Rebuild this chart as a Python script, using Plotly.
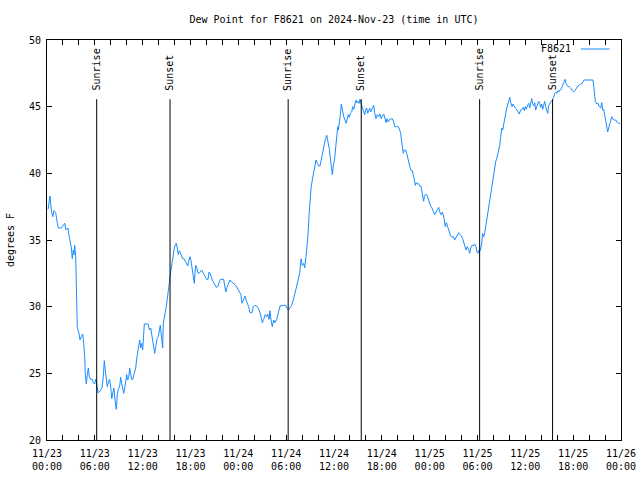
import pandas as pd
import plotly.graph_objects as go

TITLE = "Dew Point for F8621 on 2024-Nov-23 (time in UTC)"
STATION = "F8621"
START = "2024-11-23 00:00"
SPAN_HOURS = 72

# hours since START
HOURS = [
0.13,0.25,0.38,0.54,0.72,0.88,1.09,1.29,1.42,1.79,2.04,2.22,2.38,2.63,2.72,2.89,3.05,3.17,3.30,3.39,
3.47,3.60,3.64,3.73,3.80,4.01,4.14,4.30,4.48,4.60,4.73,4.80,4.93,5.06,5.18,5.31,5.48,5.68,5.81,5.98,
6.11,6.23,6.40,6.56,6.74,6.90,7.06,7.19,7.31,7.44,7.56,7.74,7.86,7.99,8.12,8.28,8.40,8.53,8.69,8.82,
8.94,9.12,9.24,9.37,9.50,9.62,9.75,9.87,10.00,10.12,10.25,10.37,10.50,10.62,10.75,10.91,11.13,11.25,11.38,11.50,
11.63,11.75,11.88,12.00,12.13,12.21,12.71,12.83,13.01,13.13,13.26,13.42,13.51,13.64,13.80,13.96,14.09,14.21,14.30,14.43,
14.51,14.59,14.71,14.84,14.96,15.09,15.22,15.34,15.43,15.55,15.68,15.81,15.93,16.06,16.22,16.34,16.47,16.60,16.72,16.85,
17.02,17.18,17.35,17.52,17.65,17.77,17.94,18.06,18.19,18.31,18.40,18.48,18.56,18.65,18.78,18.90,19.07,19.23,19.41,19.57,
19.73,19.91,20.03,20.20,20.32,20.45,20.57,20.73,20.91,21.07,21.24,21.41,21.57,21.74,22.16,22.33,22.42,22.58,22.74,22.95,
23.17,23.37,23.67,23.87,24.12,24.33,24.46,24.62,24.84,24.96,25.13,25.30,25.46,25.71,25.88,26.09,26.30,26.50,26.72,26.88,
27.01,27.18,27.38,27.56,27.68,27.85,27.97,28.10,28.26,28.44,28.60,28.81,29.01,29.23,29.64,29.94,30.10,30.27,30.48,30.69,
30.90,31.11,31.32,31.52,31.70,31.86,32.02,32.20,32.32,32.49,32.61,32.74,32.86,32.99,33.12,33.28,33.45,33.62,33.74,33.91,
34.08,34.24,34.41,34.58,34.75,34.91,35.09,35.25,35.42,35.55,35.67,35.79,35.92,36.10,36.22,36.34,36.47,36.55,36.67,36.79,
36.92,37.04,37.22,37.38,37.54,37.67,37.79,37.92,38.04,38.22,38.35,38.47,38.63,38.76,38.89,39.01,39.14,39.26,39.39,39.55,
39.73,39.85,39.98,40.10,40.23,40.35,40.48,40.60,40.73,40.85,40.98,41.11,41.27,41.43,41.61,41.77,41.93,42.06,42.24,42.40,
42.52,42.65,42.81,42.99,43.15,43.31,43.49,43.61,43.82,44.07,44.24,44.37,44.44,44.53,44.62,44.69,44.82,44.99,45.16,45.28,
45.41,45.53,45.66,45.82,45.95,46.07,46.20,46.32,46.45,46.57,46.75,46.91,47.04,47.16,47.25,47.33,47.45,47.63,47.79,47.95,
48.13,48.29,48.46,48.63,48.80,48.96,49.13,49.30,49.46,49.58,49.71,49.84,49.96,50.09,50.21,50.34,50.46,50.64,50.80,50.96,
51.14,51.30,51.47,51.64,51.81,51.97,52.14,52.31,52.43,52.56,52.72,52.90,53.02,53.15,53.31,53.47,53.65,53.81,53.94,54.06,
54.19,54.35,54.53,54.65,54.78,54.90,55.03,55.15,55.28,55.40,55.53,55.66,55.78,55.91,56.03,56.16,56.29,56.41,56.54,56.66,
56.79,56.91,57.04,57.16,57.29,57.42,57.54,57.67,57.79,57.92,58.05,58.17,58.33,58.45,58.58,58.74,58.92,59.08,59.24,59.42,
59.58,59.75,59.87,60.00,60.12,60.25,60.42,60.55,60.67,60.80,60.92,61.05,61.18,61.30,61.43,61.55,61.68,61.80,61.93,62.05,
62.18,62.30,62.43,62.56,62.68,62.81,62.93,63.06,63.18,63.31,63.44,63.56,63.69,63.81,63.94,64.06,64.19,64.31,64.44,64.56,
64.69,64.81,64.98,65.10,65.23,65.35,65.52,65.69,65.89,66.07,66.23,66.39,66.57,66.73,66.90,67.07,67.23,67.36,68.49,68.58,
68.65,68.78,68.95,69.12,69.28,69.46,69.58,69.70,69.83,69.95,70.08,70.20,70.33,70.45,70.58,70.71,70.83,71.00,71.16,71.34,
71.50,71.66,71.91,
]

DEWPOINT_F = [
37.3,38.0,38.3,37.25,36.75,37.2,37.05,36.3,35.9,35.9,36.1,36.25,35.75,35.9,35.5,34.9,34.4,33.6,34.25,33.9,
34.6,33.75,32.25,30.05,28.45,28.0,27.5,27.75,27.95,27.25,26.3,24.95,24.2,24.9,25.4,24.75,24.55,24.55,24.3,24.2,
24.55,24.25,23.55,23.6,23.75,23.9,24.75,25.95,25.25,24.5,24.0,24.4,24.55,24.0,23.1,23.6,23.9,23.0,22.3,23.4,
23.8,24.05,24.7,24.25,23.9,23.5,23.9,24.55,24.9,24.5,24.7,25.4,25.0,24.55,24.55,24.9,25.4,26.1,26.6,27.3,
27.5,26.9,27.25,26.75,28.0,28.7,28.7,28.25,28.4,28.0,27.5,27.1,26.5,27.0,27.6,27.75,28.3,28.6,28.1,27.5,
26.9,28.75,29.05,29.6,30.0,30.5,31.05,31.75,32.25,32.8,33.1,33.75,34.25,34.6,34.75,34.4,33.9,34.2,34.0,33.8,
33.6,33.6,33.4,33.25,33.05,33.4,33.75,33.45,33.0,32.6,32.25,31.75,32.5,33.1,32.95,32.55,32.5,32.6,32.75,32.55,
32.4,32.25,32.05,32.05,32.6,32.5,32.25,32.0,31.8,31.65,31.45,31.5,31.75,32.05,32.05,31.55,31.1,31.45,31.7,32.0,
31.85,31.75,31.6,31.4,31.1,30.9,30.25,30.5,30.8,30.5,30.25,30.0,29.55,29.55,30.0,30.1,30.05,29.9,29.55,29.1,
28.8,29.05,29.4,29.25,29.45,29.05,29.7,29.0,28.5,29.0,28.8,29.05,29.5,30.05,30.1,30.1,29.9,29.75,29.9,30.1,
30.5,31.0,31.5,31.85,32.5,33.6,33.1,33.25,32.9,33.75,34.5,35.4,36.75,38.0,38.9,39.5,40.1,40.6,41.0,40.75,
40.55,40.55,41.1,41.6,42.0,42.55,42.85,42.45,41.8,41.1,40.4,39.9,40.6,41.2,42.0,42.9,43.5,43.25,43.75,44.4,
45.2,44.75,44.25,44.0,43.75,44.1,44.4,44.2,44.5,44.6,45.0,44.8,45.25,45.5,45.3,45.4,45.25,45.55,45.25,44.9,
44.6,44.4,44.75,44.9,44.5,44.75,44.9,44.6,44.8,45.05,45.1,44.5,44.1,44.4,44.25,44.45,44.1,44.3,44.45,44.1,
43.8,44.1,43.85,44.05,44.1,44.1,43.85,43.5,43.5,43.5,43.25,43.0,42.6,42.25,41.9,41.5,41.75,41.75,41.4,41.0,
40.75,40.45,40.2,40.2,39.9,39.5,39.1,39.3,39.2,39.25,39.05,39.05,38.65,38.4,37.9,38.25,38.4,38.4,38.1,37.9,
37.55,37.4,37.2,36.9,37.1,37.3,37.45,37.05,36.9,37.1,36.9,36.5,36.0,36.3,36.1,35.8,35.6,35.3,35.2,35.25,
35.0,35.2,35.45,35.55,35.4,35.3,35.1,34.75,34.4,34.25,34.5,34.3,34.0,34.4,34.6,34.55,34.7,34.5,34.1,34.0,
34.25,34.2,34.75,35.5,35.25,35.5,36.0,36.5,36.9,37.25,37.75,38.4,39.0,39.5,40.0,40.45,40.9,41.1,41.4,41.75,
42.1,42.75,43.4,43.25,43.6,44.05,44.5,44.9,45.1,45.45,45.7,45.3,45.0,45.2,45.05,44.9,44.8,44.6,44.45,44.75,
44.8,44.95,44.7,45.0,44.8,45.05,45.25,44.9,45.3,45.6,45.25,45.05,45.3,44.75,45.0,45.25,45.4,45.25,44.95,45.2,
44.8,45.1,45.4,45.0,44.75,44.5,45.1,45.25,45.4,45.45,45.55,45.7,46.0,46.1,46.0,46.2,46.1,46.25,46.25,46.5,
46.6,46.8,47.05,46.75,46.55,46.5,46.5,46.4,46.2,46.1,46.2,46.4,46.55,46.6,46.7,46.7,46.9,47.0,47.0,46.4,
45.75,45.4,45.2,45.25,45.0,44.9,45.3,44.75,44.8,44.45,43.85,43.5,43.1,43.4,43.6,43.95,44.25,44.05,44.0,44.0,
43.85,43.75,43.75,
]

SUN_EVENTS = ["Sunrise", "Sunset", "Sunrise", "Sunset", "Sunrise", "Sunset"]
SUN_TIMES = ["2024-11-23 06:14", "2024-11-23 15:26", "2024-11-24 06:15",
             "2024-11-24 15:25", "2024-11-25 06:16", "2024-11-25 15:25"]

Y_RANGE = [20, 50]
Y_DTICK = 5
LABEL_STEP_H = 6
TICK_STEP_H = 2

FONT = "DejaVu Sans Mono"
LINE_COLOR = "#1a8cff"

start = pd.Timestamp(START)
times = start + pd.to_timedelta(HOURS, unit="h")
end = start + pd.Timedelta(hours=SPAN_HOURS)

tickvals = [start + pd.Timedelta(hours=h) for h in range(0, SPAN_HOURS + 1, TICK_STEP_H)]
ticktext = [t.strftime("%m/%d<br>%H:%M") if (i * TICK_STEP_H) % LABEL_STEP_H == 0 else ""
            for i, t in enumerate(tickvals)]

fig = go.Figure()
fig.add_trace(go.Scatter(x=times, y=DEWPOINT_F, mode="lines",
                         line=dict(color=LINE_COLOR, width=1),
                         name=STATION, showlegend=False))

LINE_TOP = 0.852
for ev, t in zip(SUN_EVENTS, SUN_TIMES):
    ts = pd.Timestamp(t)
    fig.add_shape(type="line", xref="x", yref="paper", x0=ts, x1=ts, y0=0, y1=LINE_TOP,
                  line=dict(color="black", width=1))
    fig.add_annotation(x=ts, xref="x", y=0.868, yref="paper", text=ev, textangle=-90,
                       showarrow=False, xanchor="center", yanchor="bottom",
                       font=dict(family=FONT, size=10, color="black"))

# gnuplot-style key: text then line sample
fig.add_annotation(x=0.917, xref="paper", y=0.9775, yref="paper", text=STATION,
                   showarrow=False, xanchor="right", yanchor="middle",
                   font=dict(family=FONT, size=10, color="black"))
fig.add_shape(type="line", xref="paper", yref="paper", x0=0.930, x1=0.980,
              y0=0.9775, y1=0.9775, line=dict(color=LINE_COLOR, width=1))

axis_common = dict(showline=True, linecolor="black", linewidth=1, mirror="allticks",
                   ticks="inside", ticklen=5, tickwidth=1, tickcolor="black",
                   showgrid=False, zeroline=False, automargin=False,
                   tickfont=dict(family=FONT, size=10, color="black"))

fig.update_layout(
    width=640, height=480,
    margin=dict(l=47, r=19, t=40, b=40, autoexpand=False),
    paper_bgcolor="white", plot_bgcolor="white",
    font=dict(family=FONT, size=10, color="black"),
    title=dict(text=TITLE, x=0.5, xref="paper", xanchor="center",
               y=1 - 19 / 480, yref="container", yanchor="middle",
               font=dict(family=FONT, size=10, color="black")),
    xaxis=dict(range=[start, end], tickmode="array", tickvals=tickvals, ticktext=ticktext,
               ticklabelstandoff=4, **axis_common),
    yaxis=dict(range=Y_RANGE, dtick=Y_DTICK, tick0=Y_RANGE[0], ticklabelstandoff=3,
               title=dict(text="degrees F", font=dict(family=FONT, size=10, color="black"),
                          standoff=12),
               **axis_common),
    showlegend=False,
)

fig.write_html("out.html", config={"displayModeBar": False},
               post_script="document.body.style.margin='0px';")
